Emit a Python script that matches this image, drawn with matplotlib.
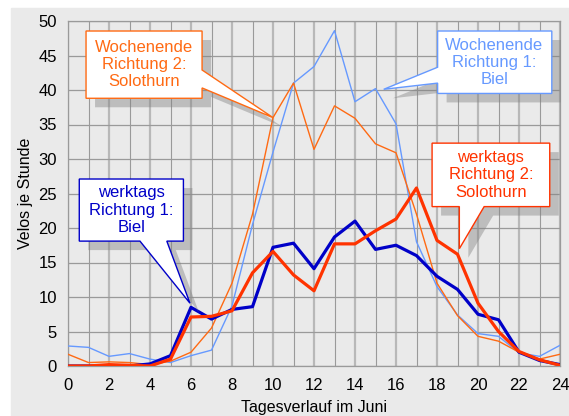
"""
Velos je Stunde im Tagesverlauf (Juni), werktags und am Wochenende.
"""

import matplotlib
matplotlib.use("Agg")
from matplotlib import pyplot as plt
from matplotlib.patches import Polygon, Rectangle
from matplotlib.transforms import offset_copy

plt.rcParams['font.family'] = ['Liberation Sans', 'DejaVu Sans']

hours = list(range(25))
werktags_biel = [0, 0, 0, 0, 0.3, 1.5, 8.5, 6.8, 8.2, 8.6, 17.2, 17.8, 14.1,
                 18.7, 21.0, 16.9, 17.5, 16.0, 13.0, 11.1, 7.5, 6.7, 2.0, 0.8, 0.2]
werktags_solothurn = [0, 0, 0.2, 0.1, 0, 1.0, 7.1, 7.2, 8.0, 13.5, 16.6, 13.2, 10.9,
                      17.7, 17.7, 19.6, 21.3, 25.8, 18.2, 16.2, 9.1, 5.0, 2.1, 0.9, 0.1]
wochenende_biel = [2.9, 2.7, 1.4, 1.8, 1.0, 0.5, 1.5, 2.3, 8.7, 20.5, 31.0, 41.0, 43.4,
                   48.6, 38.3, 40.2, 35.1, 18.0, 11.5, 7.4, 4.7, 4.3, 1.9, 1.4, 3.0]
wochenende_solothurn = [1.7, 0.5, 0.6, 0.5, 0.2, 0.7, 2.0, 5.5, 12.0, 22.0, 36.0, 41.0, 31.4,
                        37.7, 35.9, 32.2, 30.9, 22.0, 12.0, 7.3, 4.3, 3.6, 2.0, 1.0, 1.7]

c_wt_biel = '#0000c8'
c_wt_solo = '#ff3300'
c_we_biel = '#6699ff'
c_we_solo = '#ff6a13'
bg = '#eaeaea'

fig = plt.figure(figsize=(5.69, 4.16), dpi=100)
fig.add_artist(Rectangle((11/569, 0), 558/569, 408/416, transform=fig.transFigure,
                         color=bg, zorder=-5))
ax = fig.add_axes([68/569, 50/416, 492/569, 345/416])
ax.set_facecolor(bg)

# lines
ax.plot(hours, wochenende_biel, color=c_we_biel, lw=1.0, zorder=3)
ax.plot(hours, wochenende_solothurn, color=c_we_solo, lw=1.0, zorder=3)
ax.plot(hours, werktags_biel, color=c_wt_biel, lw=2.3, zorder=4)
ax.plot(hours, werktags_solothurn, color=c_wt_solo, lw=2.3, zorder=5)

ax.set_xlim(0, 24)
ax.set_ylim(0, 50)
ax.set_xticks(range(0, 25, 2))
ax.set_xticks(range(1, 24, 2), minor=True)
ax.set_yticks(range(0, 51, 5))
ax.grid(which='major', axis='x', color='#b8b8b8', lw=1.6, zorder=1)
ax.grid(which='minor', axis='x', color='#9a9a9a', lw=0.8, zorder=1)
ax.grid(which='major', axis='y', color='#9a9a9a', lw=0.9, zorder=1)
ax.set_axisbelow(True)
ax.tick_params(which='both', length=0, labelsize=12)
ax.tick_params(axis='x', pad=9)
ax.tick_params(axis='y', pad=8)
for s in ax.spines.values():
    s.set_color('#9a9a9a')
    s.set_linewidth(0.9)
ax.set_xlabel('Tagesverlauf im Juni', fontsize=11.5, labelpad=5)
ax.set_ylabel('Velos je Stunde', fontsize=11.5, labelpad=4)


def callout(verts, center, text, color):
    shadow_tr = offset_copy(ax.transData, fig=fig, x=9, y=-9, units='dots')
    ax.add_patch(Polygon(verts, closed=True, transform=shadow_tr, facecolor='#808080',
                         alpha=0.42, edgecolor='none', zorder=6, clip_on=False))
    ax.add_patch(Polygon(verts, closed=True, facecolor='white', edgecolor=color,
                         lw=1.0, zorder=7, clip_on=False))
    ax.text(center[0], center[1], text, color=color, fontsize=12, ha='center',
            va='center', linespacing=1.2, zorder=8)


# Wochenende Richtung 2 (pointer on right side)
callout([(0.88, 48.55), (6.54, 48.55), (6.54, 42.9), (10.0, 36.0), (6.54, 40.3),
         (6.54, 38.8), (0.88, 38.8)], (3.71, 43.7),
        'Wochenende\nRichtung 2:\nSolothurn', c_we_solo)
# Wochenende Richtung 1 (pointer on left side)
callout([(18.03, 48.55), (23.6, 48.55), (23.6, 39.5), (18.03, 39.5), (18.03, 41.0),
         (15.4, 40.1), (18.03, 43.3)], (20.8, 44.0),
        'Wochenende\nRichtung 1:\nBiel', c_we_biel)
# werktags Richtung 1 (pointer at bottom)
callout([(0.55, 27.1), (5.63, 27.1), (5.63, 18.1), (4.82, 18.1), (5.95, 9.1),
         (3.51, 18.1), (0.55, 18.1)], (3.09, 22.6),
        'werktags\nRichtung 1:\nBiel', c_wt_biel)
# werktags Richtung 2 (pointer at bottom)
callout([(17.76, 32.3), (23.5, 32.3), (23.5, 23.1), (20.3, 23.1), (19.09, 17.0),
         (19.09, 23.1), (17.76, 23.1)], (20.63, 27.7),
        'werktags\nRichtung 2:\nSolothurn', c_wt_solo)

plt.savefig('out.png', dpi=100)
